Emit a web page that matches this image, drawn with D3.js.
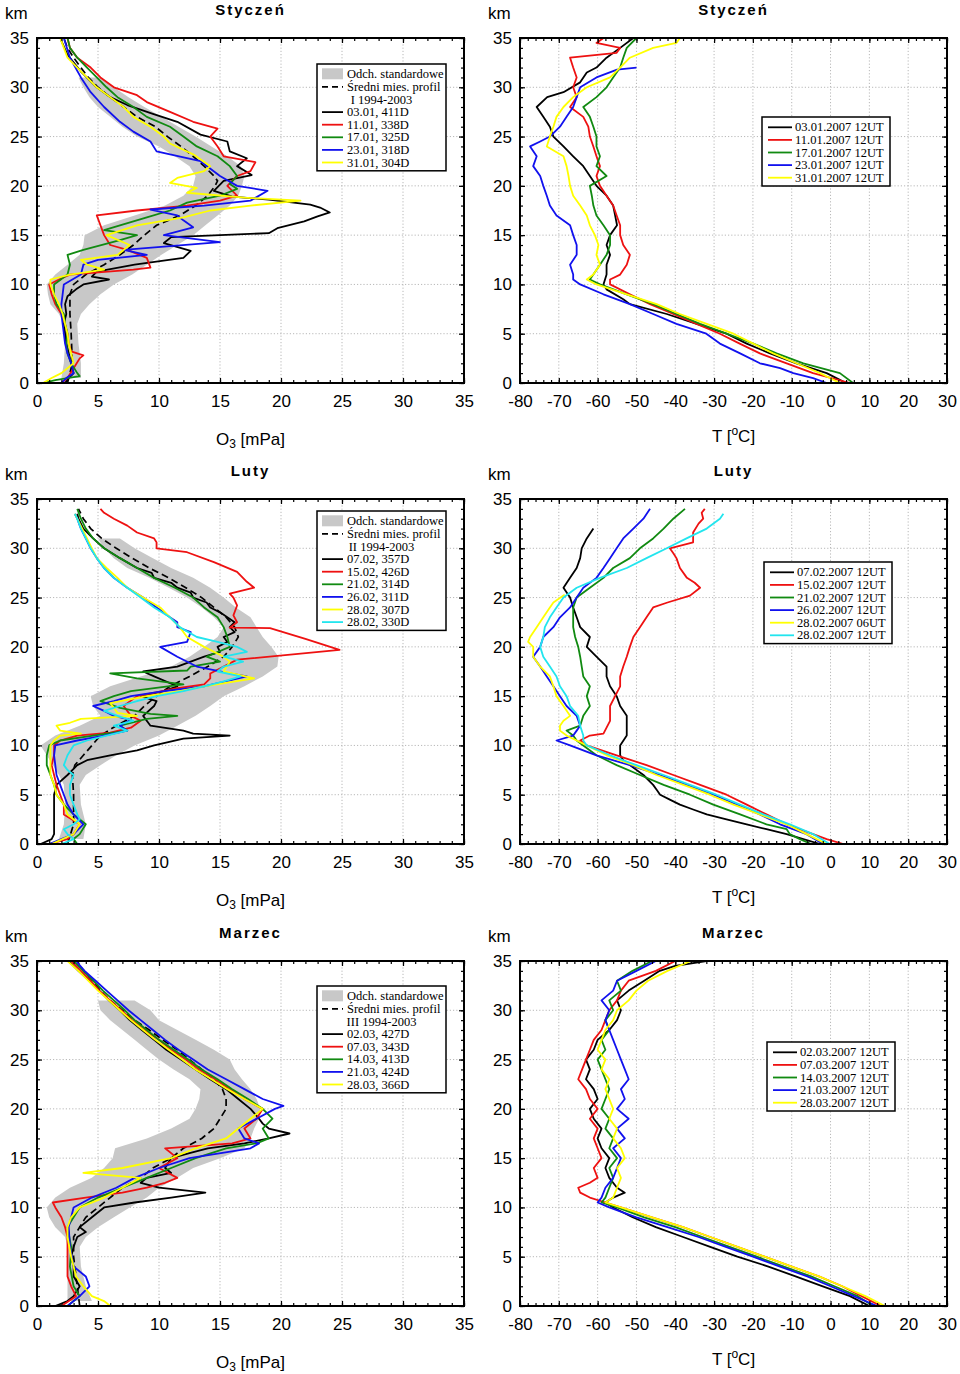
<!DOCTYPE html>
<html>
<head>
<meta charset="utf-8">
<script src="https://cdn.jsdelivr.net/npm/d3@7"></script>
<style>
body { margin: 0; background: #fff; }
svg text { font-family: "Liberation Sans", Arial, sans-serif; }
.legend text { font-family: "Liberation Serif", "Times New Roman", serif; font-size: 12.5px; }
</style>
</head>
<body>
<svg id="chart" width="960" height="1374"></svg>
<script>
// ---- data: profiles as [altitude km, value] ----

// Styczeń - ozone
const janO3Band = [[0.5,2,3.6],[2,2.2,3.6],[4,2.3,3.4],[6,2.2,3.3],[7,1.8,3.6],[8,1.1,4.3],[9,0.9,5.2],[10,0.8,6.3],[11,1.5,7.8],[12,2.5,9],[13,3.5,10.2],[14,3.8,11.5],[15,3.9,12.8],[16,5.5,13.8],[17,8,14.8],[18,10.5,15.8],[19,12,16.5],[20,12.8,16.8],[21,13,17],[22,12.5,16.7],[23,11.3,15.6],[24,10,14.3],[25,8.2,13],[26,7,11.6],[27,6,10.2],[28,5,8.8],[29,4.3,7.5],[30,3.8,6.3],[31,3.4,5.2]];
const janO3Mean = [[0,2.5],[2,2.9],[5,2.8],[7,2.7],[9,2.7],[10,3],[11,4],[12,5.5],[13,6.8],[14,7.9],[15,8.8],[16,9.8],[17,11.7],[18,13],[19,14],[20,14.6],[20.5,14.8],[21,14.5],[22,13.7],[23,12.8],[24,11.8],[25,10.7],[26,9.7],[27,8.2],[28,7.1],[29,6],[30,5],[31,4.2],[32,3.6],[33,3],[34,2.5],[35,2.2]];
const janO3_0301 = [[0,2.3],[0.5,2.6],[1,3.0],[2,2.8],[3,2.6],[4,2.4],[5,2.3],[6,2.2],[7,2.4],[8,2.3],[8.8,2.5],[9.5,3.2],[10,3.8],[10.5,5.9],[10.8,4.5],[11.3,4.9],[12,8],[12.7,12],[13.4,12.6],[14.2,10.4],[14.8,11],[15,15],[15.2,19],[15.7,19.7],[16.4,21.9],[16.9,23],[17.3,24],[17.8,23.2],[18.1,22.4],[18.6,19],[18.9,16],[19.5,14.5],[20.5,15.3],[21.1,17.6],[22,16.4],[22.8,17.2],[23.5,15.8],[24.5,15.6],[25.2,13.4],[26.5,11.5],[27.3,9.5],[28.2,7.4],[29,6],[30,4.9],[31.6,3.6],[33.3,2.5],[34.7,2.0],[35,2.0]];
const janO3_1101 = [[0,2],[0.5,2.5],[1.5,3.0],[2.5,3.5],[2.8,3.8],[3.2,2.8],[4,2.6],[5,2.5],[6,2.3],[7,2],[8,1.5],[9,1.2],[10,1.0],[10.5,1.8],[11,2.7],[11.5,7.9],[11.7,9.3],[12.7,9],[13.5,7.4],[14,6],[15,5.5],[16,5.2],[17,4.9],[17.5,8.2],[18,12.3],[18.5,15],[19,16.4],[20,15.6],[21,16.4],[21.5,17.5],[22.4,17.9],[23,15.3],[24,14.8],[25,14.2],[25.8,14.8],[26.5,12.8],[27.5,10.9],[28.5,9],[29.2,8.2],[30,6.3],[31,5.2],[32,4.4],[33,3.3],[34,2.7],[35,2.5]];
const janO3_1701 = [[0,0.5],[0.3,1.5],[0.7,3.5],[1,3.3],[2,2.8],[3,2.5],[4,2.4],[5,2.5],[6,2.3],[7,2.2],[8,1.6],[9,1.4],[10,1.4],[11,2.5],[12,2.7],[13,2.5],[13.5,3.8],[14.5,6.8],[15,8.2],[15.5,5.5],[16,6.8],[16.8,9],[17.5,10.9],[18.3,12.3],[19,15],[19.7,16.4],[20.2,15.8],[21,16.4],[22,15.8],[23,14.8],[24,13.1],[25,12],[26,10.9],[27,9],[28,7.9],[29,6.6],[30,5.7],[31,4.9],[32,4.1],[33,3.3],[34,2.7],[35,2.5]];
const janO3_2301 = [[0,2],[0.5,2.4],[1,3],[2,2.8],[3,2.5],[4,2.3],[5,2.2],[6,2.1],[7,2.0],[8,2.0],[9,2.1],[10,2.2],[11,3.6],[12,3.8],[12.5,5],[13,9],[13.5,7.1],[14.3,15],[15,10.4],[15.8,12.8],[16.5,12],[17,11.5],[17.6,9.3],[18,13.7],[18.5,17.5],[19.5,18.9],[20,16.4],[21,15],[22.5,13.4],[23.5,9.8],[24.5,9.3],[25.5,7.9],[26.5,6.8],[28,5.5],[29.5,4.4],[31,3.6],[33,2.7],[35,2.2]];
const janO3_3101 = [[0,0.5],[0.5,1.2],[1,2],[2,3],[3,2.8],[4,2.6],[5,2.5],[6,2.3],[7,2.1],[8,1.8],[9,1.4],[10,1.1],[10.5,1.1],[11,2.7],[11.5,5.5],[12,4.1],[12.5,3.6],[13,6.6],[14,7.6],[15,5.7],[16,8.2],[16.8,12],[17.5,14.2],[18,17.5],[18.5,21.6],[18.8,17],[19.3,12.3],[19.8,13.1],[20.3,10.9],[20.8,11.5],[21.5,13.7],[22,14.2],[23.2,12.8],[24.3,10.9],[25,10.4],[26,9.3],[27,7.9],[28,7.1],[29,6],[30,4.9],[31,4.1],[32,3.3],[33,2.5],[34,2.2],[35,1.9]];

// Styczeń - temperature
const janT_0301 = [[0,4],[1,-1],[2,-8.8],[3,-15.6],[4,-21.6],[5,-26.8],[6,-34.5],[7,-42.2],[8,-51.7],[8.5,-53.4],[9.5,-57.7],[10,-58.5],[11,-57.7],[12,-57.7],[13,-56.8],[14,-57.7],[15,-56.8],[16,-55],[17,-55.5],[18,-56],[19,-57.7],[20,-60.3],[21,-62],[22,-63.7],[23,-66.3],[24,-68.8],[25,-71.4],[26,-72.3],[27,-74],[28,-75.7],[29,-73],[29.5,-68.8],[30.5,-64.5],[31.5,-62.8],[32,-60.3],[33,-57.7],[34,-54.2],[35,-50.8]];
const janT_1101 = [[0,5],[1,-4.5],[2,-11.3],[3,-18.2],[4,-23.4],[5,-28.5],[6,-34.5],[7,-40.5],[8,-46.5],[9,-51.7],[10,-56.8],[10.5,-56.8],[11,-54.2],[12,-52.5],[13,-51.7],[14,-53.4],[15,-54.2],[16,-54.2],[17,-55.1],[18,-56],[19,-57.7],[20,-59.4],[21,-60.3],[22,-59.4],[23,-60.3],[24,-61.1],[25,-62],[26,-62.4],[27,-63.7],[28,-67.1],[29,-65.4],[30,-66.3],[31,-65.4],[32,-66.3],[33,-67.1],[33.5,-55.1],[34,-54.2],[34.5,-60.3],[35,-58.5]];
const janT_1701 = [[0,5.8],[1,2.4],[2,-7],[3,-13.9],[4,-19.9],[5,-26.8],[6,-33.6],[7,-39.7],[8,-45.7],[9,-52.5],[10,-59.4],[10.5,-62],[11,-61.1],[12,-59.4],[13,-57.7],[14,-56.8],[15,-56.8],[16,-58.5],[17,-60.3],[18,-61.1],[19,-61.5],[20,-62],[21,-57.7],[22,-60.3],[23,-59.4],[24,-60.3],[25,-60.3],[26,-61.1],[27,-62],[28,-63.7],[29,-60.3],[30,-57.7],[31,-56],[32,-54.2],[33,-53.4],[34,-52.5],[35,-50]];
const janT_2301 = [[0,-1],[0.5,-4.5],[1,-9.6],[1.5,-13],[2,-18.2],[3,-23.3],[4,-28.5],[5,-32],[6,-39.7],[7,-45.7],[8,-51.7],[9,-58.5],[10,-64.5],[10.5,-66.3],[11,-66.3],[12,-67.1],[13,-65.4],[14,-65.4],[15,-66.3],[16,-67.1],[17,-70.6],[18,-72.3],[19,-73.1],[20,-74],[21,-74.8],[22,-76.6],[23,-75.7],[24,-77.4],[24.5,-74.8],[25,-72.3],[26,-69.7],[27,-68],[28,-66.3],[29,-65.4],[30,-64.5],[31,-60.3],[31.8,-55],[32,-50]];
const janT_3101 = [[0,2.4],[1,-2.7],[2,-8.8],[3,-14.8],[4,-19.9],[5,-25],[6,-31.9],[7,-38.8],[8,-44.8],[9,-52.5],[10,-60.3],[10.5,-62.8],[11,-61.1],[12,-59.4],[13,-60.3],[14,-59.8],[15,-60.7],[16,-62],[17,-62.8],[18,-64.5],[19,-66.3],[20,-67.1],[21,-67.5],[22,-68],[23,-68.8],[24,-73.1],[25,-72.3],[26,-71.4],[27,-70.6],[28,-68.8],[29,-66.3],[30,-62.8],[31,-56.8],[32,-54.2],[33,-51.7],[34,-45.7],[34.5,-39.7],[35,-38.8]];

// Luty - ozone
const febO3Band = [[0.5,1.8,3.8],[2,2.2,4],[4,2.3,3.6],[6,2.2,3.5],[7,1.8,4],[8,1.3,5.2],[9,0.8,6.5],[10,0.3,8],[11,1.5,10],[12,3.5,11.5],[13,5.2,13],[14,4.6,14.2],[15,4.4,15.3],[16,6,17],[17,8.5,18.5],[18,11,19.7],[19,12.5,19.8],[20,13.7,19.2],[21,14.8,18.5],[22,15.3,18],[23,14.5,17.5],[24,13.5,16.3],[25,12.3,15.3],[26,10.8,14.2],[27,9.2,12.8],[28,7.4,11],[29,6.3,9.5],[30,5.5,8],[31,5,6.8]];
const febO3Mean = [[0,2.5],[2,3],[5,3],[7,2.9],[8,3.1],[9,3.8],[10,4.5],[11,5.2],[12,6.5],[13,8],[14,8.8],[15,9.8],[16,10.9],[17,12.5],[18,14],[19,15.3],[20,16],[21,16.5],[22,16.2],[23,15.5],[24,14.5],[25,13.5],[26,12.2],[27,10.8],[28,9.2],[29,7.8],[30,6.5],[31,5.3],[32,4.4],[33,3.8],[34,3.4]];
const febO3_0702 = [[0,0.3],[0.5,1.2],[1,1.4],[2,1.4],[3,1.4],[4,1.4],[5,1.4],[6,1.6],[7,2.5],[8,3.3],[8.5,4.1],[9,6],[9.5,8.2],[10,9.6],[10.7,12],[11,15.8],[11.2,12.8],[11.5,12],[12,9.3],[13,8.7],[14,9.6],[14.5,9.8],[15,8.5],[15.5,10.4],[16,11.5],[17,9.6],[17.5,8.7],[18,11.5],[19,13.7],[19.5,15],[20,14.8],[20.5,15.6],[21,15.3],[21.5,16.2],[22,15.8],[22.5,16.2],[23,15.6],[23.5,15],[24,14.2],[24.5,13.9],[25,12.8],[25.5,12.6],[26,11.5],[26.5,11],[27,9.6],[27.5,9.4],[28,8.2],[29,6.8],[30,5.5],[31,4.6],[32,3.8],[33,3.4],[33.5,3.3]];
const febO3_1502 = [[0,1],[0.5,2.5],[1,3],[2,3.5],[3,2.2],[4,2.2],[5,1.9],[6,1.6],[7,1.4],[8,1.2],[9,1.4],[10,1.4],[10.5,1.9],[11,3.3],[11.3,6],[11.8,7.7],[12.5,8.5],[13,7.7],[14,7.1],[15,8.2],[15.8,11.5],[16.2,13.7],[16.8,14.2],[17.3,14.2],[18.7,16.4],[19.7,24.8],[20.8,22],[21.9,19.1],[21.95,15.8],[22.5,16.4],[23.2,16.1],[24.2,16.4],[25,16.1],[25.4,15.8],[26,17.8],[26.6,17.2],[27.6,16.4],[28.6,14.5],[29.6,12.3],[30,9.8],[30.6,9.8],[31,9.6],[31.6,8.2],[32.3,7.4],[33,6.3],[33.6,5.5],[34,5.2]];
const febO3_2102 = [[0,3.3],[0.5,3],[1,3.5],[2,4],[3,3],[4,2.2],[5,1.6],[6,1.4],[7,1.1],[8,0.8],[9,0.8],[10,1],[10.5,1.9],[11,4.6],[11.5,7.4],[12,6.8],[12.7,9],[13,11.5],[13.2,9.3],[13.8,6.8],[14.5,5.2],[15,6.3],[15.5,7.7],[16.2,12],[16.8,8.2],[17.3,6],[17.6,12.3],[18,12.6],[18.5,15],[19,13.9],[20,15.8],[21,15.6],[22,15.3],[23,14.8],[24,13.7],[25,12.8],[26,11.3],[27,9.6],[28,8.2],[29,6.8],[30,5.5],[31,4.6],[32,4],[33,3.6],[34,3.3]];
const febO3_2602 = [[0,1],[0.5,2],[1,3],[2,3.8],[3,3],[4,2.5],[5,2.2],[6,1.9],[7,1.6],[8,1.5],[9,1.4],[10,1.5],[10.5,3.3],[11,5.5],[11.5,7.4],[12,6.8],[12.6,7.7],[13,6.3],[13.5,5.5],[14,4.6],[14.5,6.3],[15,7.7],[15.5,10.4],[16,13.7],[17,17.2],[17.3,15.8],[18,13.1],[19,11.5],[20,10.1],[20.5,12.3],[21.5,12.6],[22,11.5],[22.5,11.5],[23,10.9],[24,9.8],[25,8.7],[26,7.4],[27,6.3],[28,5.5],[29,4.9],[30,4.4],[31,4],[32,3.6],[33,3.3],[33.5,3.1]];
const febO3_2802a = [[0,1.2],[1,3],[2,3.5],[3,2.5],[4,2.2],[5,1.6],[6,1.4],[7,1.1],[8,1.1],[9,1.1],[10,1.1],[10.5,1.4],[11,1.9],[11.2,3.6],[11.5,1.9],[12,1.6],[12.3,2.7],[12.7,3.6],[13,8.2],[13.3,6.6],[14.3,6],[15,9],[15.5,11.7],[16,13.7],[16.8,17.8],[17.5,15.3],[18.5,15.8],[19,15.3],[20,13.7],[21,12.3],[22,11.7],[23,10.9],[24,10.1],[25,8.7],[26,7.4],[27,6.6],[28,5.7],[29,4.9],[30,4.5],[31,4.1],[32,3.7],[33,3.3],[33.5,3.1]];
const febO3_2802b = [[0,2],[0.5,3],[1,2.5],[1.5,2.2],[2,3],[2.5,3.5],[3,3.3],[4,3],[5,2.7],[6,2.7],[7,3],[7.5,2.5],[8,2.2],[9,2.5],[10,3],[10.5,4.1],[11,5.7],[11.5,7.4],[12,6.3],[12.5,7.9],[13,6.6],[13.5,5.5],[14,6.8],[14.5,8.2],[15,9.8],[15.5,12],[16,13.7],[16.5,15.3],[17,16.7],[17.5,14.8],[18,15.3],[18.5,16.9],[19,15.3],[19.5,17.2],[20,16.4],[20.5,14.8],[21,13.1],[22,11.7],[23,10.9],[24,9.6],[25,8.5],[26,7.4],[27,6.3],[28,5.5],[29,4.9],[30,4.4],[31,4],[32,3.6],[33,3.3],[33.5,3.1]];

// Luty - temperature
const febT_0702 = [[0,-2.7],[0.5,-7],[1,-11.3],[1.5,-16.5],[2,-21.6],[2.5,-26.8],[3,-31.9],[3.5,-35.4],[4,-38.8],[4.5,-41.4],[5,-43.9],[5.5,-44.8],[6,-45.7],[7,-48.2],[8,-51.7],[8.5,-53.4],[9,-54.2],[10,-54.2],[11,-52.5],[12,-52.5],[13,-52.5],[14,-54.2],[15,-55.1],[16,-56.8],[17,-57.7],[18,-57.7],[19,-60.3],[20,-62.8],[21,-62],[22,-64.5],[23,-65.4],[24,-66.3],[25,-67.1],[26,-68.8],[27,-67.1],[28,-65.4],[29,-64.5],[30,-64.1],[31,-62.8],[32,-61.1]];
const febT_1502 = [[0,3.3],[0.5,-1],[1,-4.5],[2,-11.3],[3,-16.5],[4,-21.6],[5,-26.8],[6,-33.6],[7,-40.5],[8,-47.4],[9,-55.1],[10,-62.8],[10.5,-64.5],[11,-62],[11.2,-58.5],[11.8,-57.7],[12.5,-56.8],[13,-56.8],[14,-56.8],[15,-55.5],[16,-54.2],[17,-54.2],[18,-53.4],[19,-52.5],[20,-51.7],[21,-50.8],[22,-49.1],[23,-47.4],[24,-45.7],[24.5,-42],[25.2,-36.2],[26,-33.6],[26.5,-35],[27,-37],[28,-38.8],[29,-39.7],[29.5,-40.5],[30,-41.4],[30.6,-35.4],[31.6,-35.4],[32.5,-34],[33,-32.8],[33.6,-33.2],[34,-32.4]];
const febT_2102 = [[0,-5],[0.5,-7.9],[1,-10.5],[1.5,-11.3],[2,-16.5],[3,-23.3],[4,-30.2],[5,-36.2],[6,-43],[7,-49.1],[8,-55.1],[9,-60.3],[10,-63.7],[10.5,-65.4],[11,-66.3],[11.5,-68],[12,-64.5],[13,-63.7],[14,-62],[15,-62.8],[16,-62],[17,-63.7],[18,-64.1],[19,-64.5],[20,-65],[21,-65.8],[22,-66.3],[23,-66.3],[24,-66.3],[25,-65.4],[26,-62],[27,-58.5],[28,-56],[29,-51.7],[30,-49.1],[31,-45.7],[32,-43],[33,-40.5],[34,-37.5]];
const febT_2602 = [[0,-1.9],[1,-6.2],[2,-13],[3,-18.2],[4,-24.2],[5,-30.2],[6,-37.1],[7,-44],[8,-51.7],[9,-60.3],[10,-67.1],[10.5,-70.6],[11,-66.3],[11.5,-65.4],[12,-64.5],[13,-65.4],[14,-68],[15,-69.7],[16,-71.4],[17,-73.1],[18,-74.8],[19,-76.6],[20,-74.8],[21,-74],[22,-71.4],[23,-69.7],[24,-67.1],[25,-65.4],[26,-63.7],[27,-60.3],[28,-58.5],[29,-56.8],[30,-55.1],[31,-53.4],[32,-50.8],[33,-48.2],[34,-46.5]];
const febT_2802a = [[0,-1],[1,-6.2],[2,-11.3],[3,-18.2],[4,-25],[5,-31.1],[6,-37.9],[7,-44.8],[8,-50.8],[9,-57.7],[10,-62.8],[10.5,-65.4],[11,-68],[11.5,-69.7],[12,-69.7],[12.5,-68.8],[13,-67.1],[14,-68.8],[15,-70.6],[16,-71.4],[17,-72.3],[18,-74.8],[19,-76.6],[20,-76.6],[20.5,-77.9],[21,-77.4],[22,-75.7],[23,-74],[24,-72.3],[24.5,-71.4],[25.3,-68.5]];
const febT_2802b = [[0,-0.2],[1,-4.5],[2,-10.5],[3,-17.3],[4,-23.3],[5,-29.4],[6,-36.2],[7,-43],[8,-50],[9,-56.8],[10,-62.8],[10.5,-63.7],[11,-63.7],[12,-64.5],[13,-65],[14,-67.1],[15,-68],[16,-69.7],[17,-70.6],[18,-72.3],[19,-74],[20,-74.8],[21,-74],[22,-73.6],[23,-72.3],[24,-70.6],[25,-68.8],[26,-65.4],[27,-59.4],[28,-52.5],[29,-47.4],[30,-42.2],[31,-37.1],[32,-31.9],[33,-28.5],[33.5,-27.6]];

// Marzec - ozone
const marO3Band = [[0.5,2.5,4.5],[2,2.5,4],[4,2.5,3.6],[6,2.5,3.5],[7,2.3,4],[8,1.5,5],[9,1,6.3],[10,0.8,7.6],[11,1.5,9],[12,2.7,10],[13,4.5,11.5],[14,5.5,12.8],[15,6.2,15],[16,6.4,17],[17,9,17.5],[18,11,17.8],[19,12.5,18.2],[20,13,18.3],[21,13.3,18],[22,13.4,17.5],[23,12.5,16.8],[24,11.2,16.2],[25,10,15.8],[26,9,14.5],[27,8,13],[28,7,11.5],[29,6,10],[30,5.2,9.3],[31,5,8]];
const marO3Mean = [[0,3.5],[2,3.3],[5,3],[7,3],[8,3.5],[9,4],[10,5],[11,6],[12,7],[13,8.5],[14,9.5],[15,11],[16,12],[17,13.5],[18,14.5],[19,15],[20,15.5],[21,15.5],[22,15.2],[23,14.5],[24,13.5],[25,12.5],[26,11.5],[27,10.3],[28,9.2],[29,8],[30,7],[31,6],[32,5.2],[33,4.5],[34,3.8],[35,3.3]];
const marO3_0203 = [[0,1.5],[0.5,2.5],[1,3],[2,3.5],[3,3.0],[4,3],[5,2.8],[6,3],[7,3.3],[7.5,4],[8,3.5],[9,4.5],[10,5.5],[10.5,8],[11,11],[11.5,13.8],[12,10],[12.5,8.5],[13,9],[13.5,11],[14,10.5],[15,11],[15.5,12.5],[16,14],[16.5,17],[17,19],[17.5,20.7],[18,19],[18.5,18.5],[19,18.2],[20,17.5],[21,16.5],[22,15.5],[23,14.2],[24,13],[25,11.8],[26,10.6],[27,9.6],[28,8.6],[29,7.6],[30,6.8],[31,5.9],[32,5.1],[33,4.3],[34,3.4],[35,2.6]];
const marO3_0703 = [[0,2],[1,3.2],[2,2.8],[3,2.5],[5,2.5],[7,2.5],[8,2.3],[9,2],[10,1.5],[10.5,1.3],[11,4],[11.5,7],[12,9],[12.5,10.5],[13,11.5],[14,10],[15,11.5],[16,10.5],[16.5,16],[17,17.5],[18,17],[19,18],[20,18.5],[21,17],[22,15.8],[23,14.6],[24,13.3],[25,12.2],[26,11],[27,10],[28,8.8],[29,7.8],[30,6.9],[31,6],[32,5.1],[33,4.4],[34,3.6],[35,2.8]];
const marO3_1403 = [[0,2.5],[1,3.5],[2,3],[4,2.7],[6,2.8],[8,2.5],[9,3],[10,3.5],[11,5],[12,7],[13,9],[14,11],[15,13],[16,15.5],[16.5,18],[17,19],[18,18.5],[19,19.3],[20,18.5],[21,17.3],[22,16],[23,14.8],[24,13.5],[25,12.4],[26,11.2],[27,10],[28,9],[29,8],[30,7.2],[31,6.3],[32,5.4],[33,4.6],[34,3.8],[35,3]];
const marO3_2103 = [[0,2.5],[1,3.5],[2,4.3],[3,4],[4,3],[6,2.7],[8,2.6],[9,2.8],[10,3],[11,4.5],[12,6.5],[13,8],[14,10],[15,12.5],[16,17.5],[16.5,18.2],[17,17],[18,16.5],[19,18],[20,19.5],[20.3,20.2],[21,18.5],[22,17],[23,15.5],[24,14],[25,12.8],[26,11.6],[27,10.5],[28,9.5],[29,8.5],[30,7.5],[31,6.6],[32,5.7],[33,4.8],[34,3.9],[35,3.2]];
const marO3_2803 = [[0,6],[0.5,5.5],[1,4.5],[2,3.8],[3,3.2],[5,2.8],[7,2.5],[8,2.5],[9,2.8],[10,3.5],[11,5.5],[12,7],[13,8.5],[13.5,3.8],[14,7],[15,11],[16,13],[17,15.5],[18,16.5],[19,17.5],[20,18.5],[21,17],[22,15.6],[23,14.3],[24,13],[25,11.9],[26,10.8],[27,9.7],[28,8.7],[29,7.7],[30,6.8],[31,5.9],[32,5],[33,4.2],[34,3.4],[35,2.5]];

// Marzec - temperature
const marT_0203 = [[0,10],[1,5],[2,-2],[3,-9],[4,-16],[5,-24],[6,-31],[7,-38],[8,-45],[9,-51],[10,-56],[10.5,-58],[11,-56],[11.5,-53],[12,-55],[13,-57],[14,-58],[15,-57],[16,-59],[17,-60],[18,-59],[19,-61],[20,-62],[21,-60],[22,-61],[23,-63],[24,-62],[25,-63],[26,-61],[27,-60],[28,-57],[29,-55],[30,-54],[31,-55],[32,-52],[33,-48],[34,-44],[34.5,-40],[35,-32]];
const marT_0703 = [[0,13],[1,8],[2,3],[3,-3],[4,-10],[5,-17],[6,-24],[7,-31],[8,-38],[9,-46],[10,-54],[10.5,-58],[11,-62],[11.5,-64.5],[12,-65],[12.5,-62],[13,-60],[14,-61],[15,-59],[16,-60],[17,-61],[18,-60],[19,-62],[20,-60],[21,-62],[22,-63],[23,-65],[24,-64],[25,-63],[26,-62],[27,-61],[28,-59],[29,-58],[30,-57],[31,-55],[32,-54],[33,-52],[34,-45],[35,-40]];
const marT_1403 = [[0,11],[1,7],[2,1],[3,-5],[4,-12],[5,-19],[6,-26],[7,-33],[8,-40],[9,-48],[10,-55],[10.5,-59],[11,-58],[12,-57],[13,-56],[14,-57],[15,-55],[16,-57],[17,-56],[18,-58],[19,-57],[20,-59],[21,-58],[22,-57],[23,-58],[24,-59],[25,-60],[26,-58],[27,-59],[28,-57],[29,-58],[30,-56],[31,-57],[32,-54],[33,-55],[34,-51],[35,-46]];
const marT_2103 = [[0,12],[1,6],[2,0],[3,-6],[4,-13],[5,-20],[6,-27],[7,-34],[8,-42],[9,-50],[10,-57],[10.5,-60],[11,-59],[12,-58],[13,-56],[14,-55],[15,-54],[16,-56],[17,-53],[18,-55],[19,-52],[20,-55],[21,-53],[22,-54],[23,-52],[24,-53],[25,-54],[26,-55],[27,-56],[28,-57],[29,-58],[30,-57],[31,-59],[32,-56],[33,-55],[34,-50],[35,-45]];
const marT_2803 = [[0,14],[1,9],[2,3],[3,-3],[4,-10],[5,-17],[6,-24],[7,-31],[8,-38],[9,-46],[10,-54],[10.5,-58],[11,-56],[12,-55],[13,-54],[14,-55],[15,-53],[16,-54],[17,-56],[18,-55],[19,-57],[20,-56],[21,-57],[22,-58],[23,-57],[24,-59],[25,-58],[26,-60],[27,-59],[28,-58],[29,-56],[30,-55],[31,-52],[32,-50],[33,-47],[34,-42],[35,-36]];

// legend labels
const janO3Labels = ['03.01, 411D', '11.01, 338D', '17.01, 325D', '23.01, 318D', '31.01, 304D'];
const janTLabels = ['03.01.2007 12UT', '11.01.2007 12UT', '17.01.2007 12UT', '23.01.2007 12UT', '31.01.2007 12UT'];
const febO3Labels = ['07.02, 357D', '15.02, 426D', '21.02, 314D', '26.02, 311D', '28.02, 307D', '28.02, 330D'];
const febTLabels = ['07.02.2007 12UT', '15.02.2007 12UT', '21.02.2007 12UT', '26.02.2007 12UT', '28.02.2007 06UT', '28.02.2007 12UT'];
const marO3Labels = ['02.03, 427D', '07.03, 343D', '14.03, 413D', '21.03, 424D', '28.03, 366D'];
const marTLabels = ['02.03.2007 12UT', '07.03.2007 12UT', '14.03.2007 12UT', '21.03.2007 12UT', '28.03.2007 12UT'];

const lineColors = ['#000000', '#ee1111', '#118a11', '#1111ee', '#ffff00', '#22e5ee'];
const o3Ticks = [0, 5, 10, 15, 20, 25, 30, 35];
const tTicks = [-80, -70, -60, -50, -40, -30, -20, -10, 0, 10, 20, 30];
const kmTicks = [0, 5, 10, 15, 20, 25, 30, 35];

const svg = d3.select('#chart');
let clipId = 0;

function drawPanel(p) {
    const W = 427, H = 345;
    const x = d3.scaleLinear().domain(p.domain).range([p.left, p.left + W]);
    const y = d3.scaleLinear().domain([0, 35]).range([p.top + H, p.top]);
    const g = svg.append('g');

    const cid = 'clip' + (++clipId);
    svg.append('clipPath').attr('id', cid)
        .append('rect').attr('x', p.left).attr('y', p.top).attr('width', W).attr('height', H);

    // grid
    g.selectAll('.gx').data(p.ticks.slice(1, -1)).enter().append('line')
        .attr('x1', d => x(d)).attr('x2', d => x(d))
        .attr('y1', p.top).attr('y2', p.top + H)
        .attr('stroke', '#b8b8b8').attr('stroke-dasharray', '1.2,2');
    g.selectAll('.gy').data(kmTicks.slice(1, -1)).enter().append('line')
        .attr('y1', d => y(d)).attr('y2', d => y(d))
        .attr('x1', p.left).attr('x2', p.left + W)
        .attr('stroke', '#b8b8b8').attr('stroke-dasharray', '1.2,2');

    const plot = g.append('g').attr('clip-path', 'url(#' + cid + ')');

    if (p.band) {
        const area = d3.area().y(d => y(d[0])).x0(d => x(d[1])).x1(d => x(d[2]));
        plot.append('path').attr('d', area(p.band)).attr('fill', '#c8c8c8');
    }
    const line = d3.line().x(d => x(d[1])).y(d => y(d[0]));
    if (p.mean) {
        plot.append('path').attr('d', line(p.mean)).attr('fill', 'none')
            .attr('stroke', '#000').attr('stroke-width', 1.7).attr('stroke-dasharray', '7,4');
    }
    p.series.forEach((s, i) => {
        plot.append('path').attr('d', line(s)).attr('fill', 'none')
            .attr('stroke', lineColors[i]).attr('stroke-width', 1.8)
            .attr('stroke-linejoin', 'round');
    });

    // axes with inward ticks
    const minorX = d3.range(p.domain[0], p.domain[1] + 0.01, p.minor);
    const minorY = d3.range(0, 35.01, 1);
    const fmt = d => String(d);

    g.append('g').attr('transform', `translate(0,${p.top + H})`)
        .call(d3.axisBottom(x).tickValues(p.ticks).tickSize(-5).tickPadding(12).tickFormat(fmt));
    g.append('g').attr('transform', `translate(0,${p.top + H})`)
        .call(d3.axisBottom(x).tickValues(minorX).tickSize(-3).tickFormat(''));
    g.append('g').attr('transform', `translate(0,${p.top})`)
        .call(d3.axisTop(x).tickValues(p.ticks).tickSize(-5).tickFormat(''));
    g.append('g').attr('transform', `translate(0,${p.top})`)
        .call(d3.axisTop(x).tickValues(minorX).tickSize(-3).tickFormat(''));

    g.append('g').attr('transform', `translate(${p.left},0)`)
        .call(d3.axisLeft(y).tickValues(kmTicks).tickSize(-5).tickPadding(8).tickFormat(fmt));
    g.append('g').attr('transform', `translate(${p.left},0)`)
        .call(d3.axisLeft(y).tickValues(minorY).tickSize(-3).tickFormat(''));
    g.append('g').attr('transform', `translate(${p.left + W},0)`)
        .call(d3.axisRight(y).tickValues(kmTicks).tickSize(-5).tickFormat(''));
    g.append('g').attr('transform', `translate(${p.left + W},0)`)
        .call(d3.axisRight(y).tickValues(minorY).tickSize(-3).tickFormat(''));

    g.selectAll('.domain').remove();
    g.selectAll('.tick line').attr('stroke', '#000').attr('stroke-width', 1.2);
    g.selectAll('.tick text').attr('font-size', 17).attr('fill', '#000')
        .attr('font-family', '"Liberation Sans", Arial, sans-serif');

    g.append('rect').attr('x', p.left).attr('y', p.top).attr('width', W).attr('height', H)
        .attr('fill', 'none').attr('stroke', '#000').attr('stroke-width', 2);

    // labels
    g.append('text').attr('x', p.left - 32).attr('y', p.top - 19).attr('font-size', 17).text('km');
    g.append('text').attr('x', p.left + W / 2).attr('y', p.top - 23).attr('text-anchor', 'middle')
        .attr('font-size', 15).attr('font-weight', 'bold').attr('letter-spacing', 2).text(p.title);

    const xt = g.append('text').attr('x', p.left + W / 2).attr('y', p.top + H + p.xTitleDy)
        .attr('text-anchor', 'middle').attr('font-size', 17);
    if (p.kind === 'o3') {
        xt.append('tspan').text('O');
        xt.append('tspan').attr('font-size', 12).attr('dy', 3).text('3');
        xt.append('tspan').attr('dy', -3).text(' [mPa]');
    } else {
        xt.append('tspan').text('T [');
        xt.append('tspan').attr('font-size', 12).attr('dy', -7).text('o');
        xt.append('tspan').attr('dy', 7).text('C]');
    }

    // legend
    const lg = g.append('g').attr('class', 'legend')
        .attr('transform', `translate(${p.left + p.legend[0]},${p.top + p.legend[1]})`);
    const rows = [];
    if (p.kind === 'o3') {
        rows.push({ kind: 'band', text: 'Odch. standardowe' });
        rows.push({ kind: 'dash', text: 'Średni mies. profil' });
        rows.push({ kind: 'center', text: p.period });
    }
    p.labels.forEach((t, i) => rows.push({ kind: 'line', text: t, color: lineColors[i] }));
    const rowH = 12.6, lw = p.legendW;
    const lh = rows.length * rowH + 6;
    lg.append('rect').attr('x', 0).attr('y', 0).attr('width', lw).attr('height', lh)
        .attr('fill', '#fff').attr('stroke', '#000').attr('stroke-width', 1.5);
    const sx0 = p.kind === 'o3' ? 5 : 6, sx1 = p.kind === 'o3' ? 26 : 30, tx = p.kind === 'o3' ? 30 : 33;
    rows.forEach((r, i) => {
        const cy = 4 + rowH * i + rowH / 2;
        if (r.kind === 'band') {
            lg.append('rect').attr('x', sx0).attr('y', cy - 6).attr('width', sx1 - sx0).attr('height', 11).attr('fill', '#c8c8c8');
        } else if (r.kind === 'dash') {
            lg.append('line').attr('x1', sx0).attr('x2', sx1).attr('y1', cy).attr('y2', cy)
                .attr('stroke', '#000').attr('stroke-width', 1.6).attr('stroke-dasharray', '6,4');
        } else if (r.kind === 'line') {
            lg.append('line').attr('x1', sx0).attr('x2', sx1).attr('y1', cy).attr('y2', cy)
                .attr('stroke', r.color).attr('stroke-width', 1.8);
        }
        lg.append('text').attr('x', r.kind === 'center' ? lw / 2 : tx).attr('y', cy + 4)
            .attr('text-anchor', r.kind === 'center' ? 'middle' : 'start').text(r.text);
    });
}

const rowTops = [38, 499, 961];
const o3Panels = [
    { title: 'Styczeń', band: janO3Band, mean: janO3Mean, series: [janO3_0301, janO3_1101, janO3_1701, janO3_2301, janO3_3101], labels: janO3Labels, period: 'I 1994-2003', legend: [280, 26] },
    { title: 'Luty', band: febO3Band, mean: febO3Mean, series: [febO3_0702, febO3_1502, febO3_2102, febO3_2602, febO3_2802a, febO3_2802b], labels: febO3Labels, period: 'II 1994-2003', legend: [280, 12] },
    { title: 'Marzec', band: marO3Band, mean: marO3Mean, series: [marO3_0203, marO3_0703, marO3_1403, marO3_2103, marO3_2803], labels: marO3Labels, period: 'III 1994-2003', legend: [280, 25] }
];
const tPanels = [
    { title: 'Styczeń', series: [janT_0301, janT_1101, janT_1701, janT_2301, janT_3101], labels: janTLabels, legend: [242, 79] },
    { title: 'Luty', series: [febT_0702, febT_1502, febT_2102, febT_2602, febT_2802a, febT_2802b], labels: febTLabels, legend: [244, 63] },
    { title: 'Marzec', series: [marT_0203, marT_0703, marT_1403, marT_2103, marT_2803], labels: marTLabels, legend: [247, 81] }
];

o3Panels.forEach((p, i) => drawPanel(Object.assign({}, p, {
    kind: 'o3', left: 37, top: rowTops[i], domain: [0, 35], ticks: o3Ticks, minor: 1, xTitleDy: 62, legendW: 129
})));
tPanels.forEach((p, i) => drawPanel(Object.assign({}, p, {
    kind: 't', left: 520, top: rowTops[i], domain: [-80, 30], ticks: tTicks, minor: 2, xTitleDy: 59, legendW: 128
})));
</script>
</body>
</html>
